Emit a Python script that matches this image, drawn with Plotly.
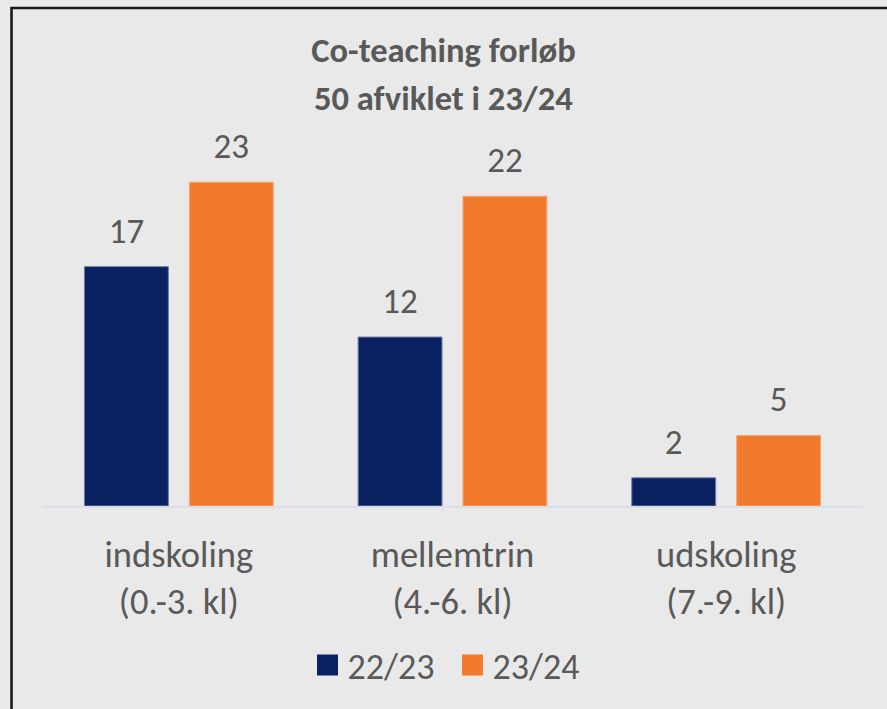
import plotly.graph_objects as go

categories = ["indskoling<br>(0.-3. kl)", "mellemtrin<br>(4.-6. kl)", "udskoling<br>(7.-9. kl)"]
series_names = ["22/23", "23/24"]
values_2223 = [17, 12, 2]
values_2324 = [23, 22, 5]
title_line1 = "Co-teaching forløb"
title_line2 = "50 afviklet i 23/24"

FONT = "Carlito, Calibri, Lato, sans-serif"
TXT = "#595959"
NAVY = "#0a2162"
ORANGE = "#f27a2c"
BG = "#e9e9e9"

fig = go.Figure()
for name, vals, col, edge, og in [(series_names[0], values_2223, NAVY, "#6f7ca4", "a"),
                                   (series_names[1], values_2324, ORANGE, "#f6a577", "b")]:
    fig.add_trace(go.Bar(x=categories, y=vals, name=name, offsetgroup=og, alignmentgroup="g",
                         marker=dict(color=col, line=dict(color=edge, width=1)),
                         showlegend=False, hoverinfo="skip"))
for name, vals, og in [(series_names[0], values_2223, "a"), (series_names[1], values_2324, "b")]:
    fig.add_trace(go.Scatter(x=categories, y=vals, mode="markers+text", text=[str(v) for v in vals],
                             textposition="top center", orientation="v",
                             offsetgroup=og, alignmentgroup="g",
                             textfont=dict(family=FONT, size=35, color=TXT),
                             marker=dict(size=23, color="rgba(0,0,0,0)"),
                             showlegend=False, hoverinfo="skip", cliponaxis=False))
# legend entries on a hidden overlaying axis
for name, col in [(series_names[0], NAVY), (series_names[1], ORANGE)]:
    fig.add_trace(go.Scatter(x=[None], y=[None], mode="markers", name=name,
                             marker=dict(symbol="square", size=16, color=col, line=dict(color=col, width=5)),
                             xaxis="x2", yaxis="y2", hoverinfo="skip"))

fig.update_layout(
    width=887, height=709,
    paper_bgcolor=BG, plot_bgcolor=BG,
    margin=dict(l=41.5, r=23.5, t=154, b=203),
    barmode="group", bargap=0.2336, bargroupgap=0.2,
    scattermode="group", scattergap=0.2336,
    title=dict(text=title_line1, x=0.5, xref="container", y=1 - 50 / 709, yref="container",
               xanchor="center", yanchor="middle",
               font=dict(family=FONT, size=34.5, color=TXT, weight="bold")),
    annotations=[dict(text=title_line2, xref="paper", yref="paper", x=(443.5 - 41.5) / 822,
                      y=(506 - 98) / 352, xanchor="center", yanchor="middle", showarrow=False,
                      font=dict(family=FONT, size=34.5, color=TXT, weight="bold"))],
    xaxis=dict(showline=True, linecolor="#dae0e7", linewidth=2, showgrid=False, ticks="",
               ticklabelstandoff=15, tickfont=dict(family=FONT, size=36.5, color=TXT)),
    yaxis=dict(range=[0, 25], visible=False, showgrid=False, zeroline=False),
    xaxis2=dict(overlaying="x", visible=False),
    yaxis2=dict(overlaying="y", visible=False),
    legend=dict(orientation="h", x=0.5, xanchor="center", y=(506 - 665) / 352, yanchor="middle",
                entrywidth=100, entrywidthmode="pixels",
                font=dict(family=FONT, size=36, color=TXT), bgcolor="rgba(0,0,0,0)"),
    shapes=[dict(type="rect", xref="paper", yref="paper", x0=(11 - 41.5) / 822, x1=1.2,
                 y0=-1.0, y1=(506 - 8) / 352, line=dict(color="#1a1a1a", width=2.6),
                 fillcolor="rgba(0,0,0,0)", layer="above")],
    hovermode=False,
)
fig.write_html("out.html", config={"displayModeBar": False},
               post_script="document.body.style.margin='0';")
